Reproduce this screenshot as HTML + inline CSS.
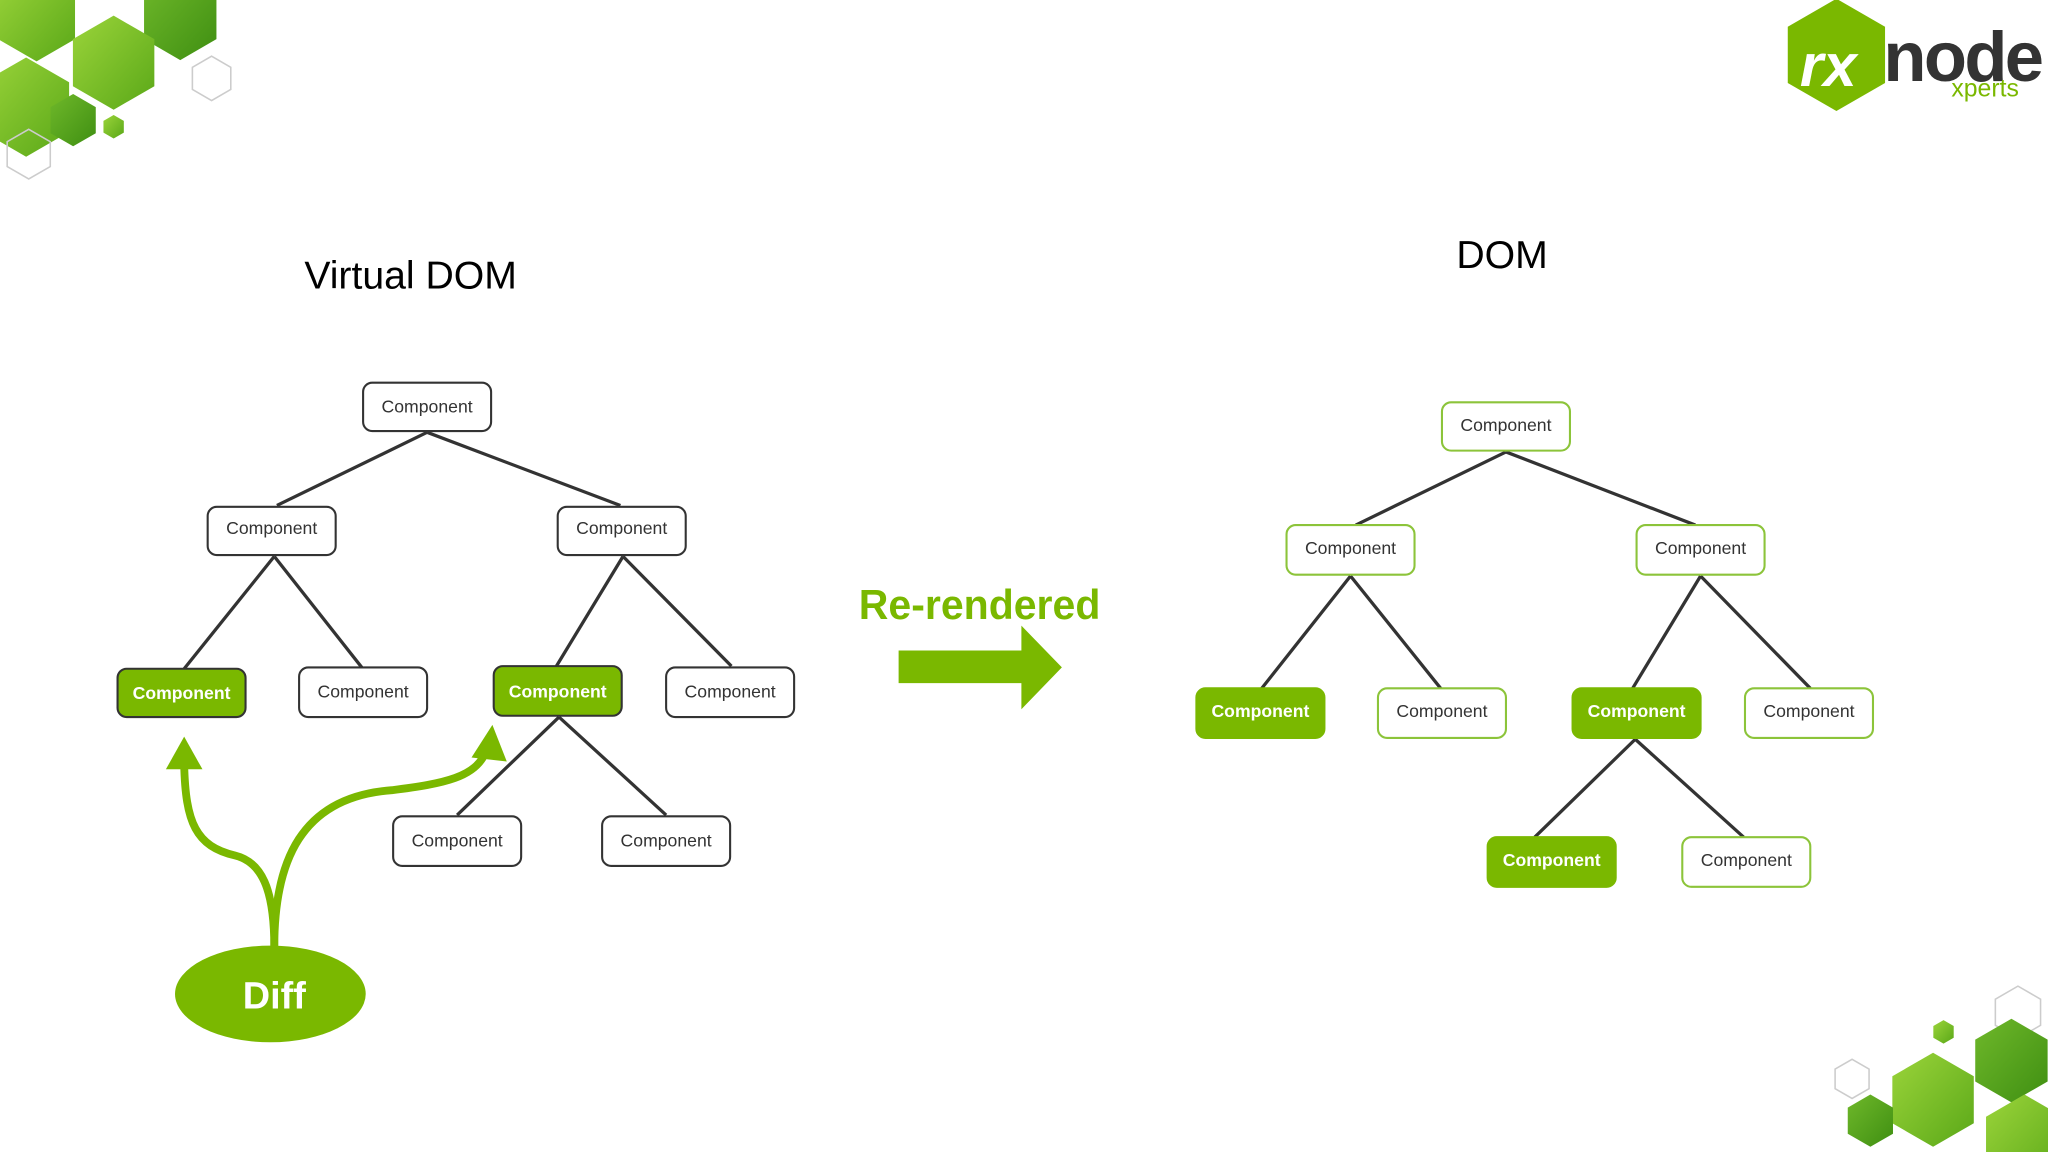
<!DOCTYPE html>
<html><head><meta charset="utf-8"><style>
html,body{margin:0;padding:0;background:#fff;}
svg{display:block;}
text{font-family:"Liberation Sans",sans-serif;}
</style></head><body>
<svg width="2048" height="1152" viewBox="0 0 1568 882" xmlns="http://www.w3.org/2000/svg">
<defs>
<polygon id="hx" points="0,-1 0.866,-0.5 0.866,0.5 0,1 -0.866,0.5 -0.866,-0.5"/>
<linearGradient id="g1" x1="0" y1="0" x2="1" y2="1"><stop offset="0" stop-color="#9bd43a"/><stop offset="1" stop-color="#5aa818"/></linearGradient>
<linearGradient id="g2" x1="0" y1="0" x2="1" y2="1"><stop offset="0" stop-color="#6fb82a"/><stop offset="1" stop-color="#3f8f12"/></linearGradient>
</defs>
<!-- top-left decoration -->
<g>
<use href="#hx" fill="url(#g1)" transform="translate(28,13) scale(34)"/>
<use href="#hx" fill="url(#g2)" transform="translate(138,14) scale(32)"/>
<use href="#hx" fill="url(#g1)" transform="translate(87,48) scale(36)"/>
<use href="#hx" fill="url(#g1)" transform="translate(20,82) scale(38)"/>
<use href="#hx" fill="url(#g2)" transform="translate(56,92) scale(20)"/>
<use href="#hx" fill="url(#g1)" transform="translate(87,97) scale(9)"/>
<polygon points="162,43 176.7,51.5 176.7,68.5 162,77 147.3,68.5 147.3,51.5" fill="none" stroke="#ccc" stroke-width="1.2"/>
<polygon points="22,99 38.5,108.5 38.5,127.5 22,137 5.5,127.5 5.5,108.5" fill="none" stroke="#ccc" stroke-width="1.2"/>
</g>
<!-- bottom-right decoration -->
<g>
<polygon points="1545,755 1562.3,765 1562.3,785 1545,795 1527.7,785 1527.7,765" fill="none" stroke="#ccc" stroke-width="1.2"/>
<polygon points="1418,811 1431,818.5 1431,833.5 1418,841 1405,833.5 1405,818.5" fill="none" stroke="#ccc" stroke-width="1.2"/>
<use href="#hx" fill="url(#g1)" transform="translate(1488,790) scale(9)"/>
<use href="#hx" fill="url(#g2)" transform="translate(1540,812) scale(32)"/>
<use href="#hx" fill="url(#g1)" transform="translate(1480,842) scale(36)"/>
<use href="#hx" fill="url(#g2)" transform="translate(1432,858) scale(20)"/>
<use href="#hx" fill="url(#g1)" transform="translate(1550,872) scale(34)"/>
</g>
<!-- logo -->
<use href="#hx" fill="#7ab800" transform="translate(1406,42) scale(43)"/>
<text x="1378" y="66" font-size="46" font-weight="bold" fill="#fff" font-style="italic">rx</text>
<text x="1442" y="62" font-size="54" font-weight="bold" fill="#333" letter-spacing="-2">node</text>
<text x="1494" y="74" font-size="19" fill="#7ab800">xperts</text>

<!-- titles -->
<text x="233" y="221" font-size="30" fill="#000">Virtual DOM</text>
<text x="1115" y="205" font-size="30" fill="#000">DOM</text>

<!-- VDOM lines -->
<g stroke="#333" stroke-width="2.5" fill="none">
<line x1="327" y1="331" x2="212" y2="387"/><line x1="327" y1="331" x2="475" y2="387"/>
<line x1="210" y1="426" x2="141" y2="512"/><line x1="210" y1="426" x2="277" y2="511"/>
<line x1="477" y1="426" x2="426" y2="510"/><line x1="477" y1="426" x2="560" y2="510"/>
<line x1="428" y1="549" x2="350" y2="624"/><line x1="428" y1="549" x2="510" y2="624"/>
</g>
<!-- DOM lines -->
<g stroke="#333" stroke-width="2.5" fill="none">
<line x1="1153" y1="346" x2="1038" y2="402"/><line x1="1153" y1="346" x2="1298" y2="402"/>
<line x1="1034" y1="441" x2="966" y2="527"/><line x1="1034" y1="441" x2="1103" y2="527"/>
<line x1="1302" y1="441" x2="1250" y2="527"/><line x1="1302" y1="441" x2="1386" y2="527"/>
<line x1="1252" y1="566" x2="1175" y2="641"/><line x1="1252" y1="566" x2="1335" y2="641"/>
</g>

<g font-size="13.5" text-anchor="middle">
<!-- VDOM nodes -->
<g stroke="#333" stroke-width="1.6">
<rect x="278" y="293" width="98" height="37" rx="7" fill="#fff"/>
<rect x="159" y="388" width="98" height="37" rx="7" fill="#fff"/>
<rect x="427" y="388" width="98" height="37" rx="7" fill="#fff"/>
<rect x="90" y="512" width="98" height="37" rx="7" fill="#7ab800"/>
<rect x="229" y="511" width="98" height="38" rx="7" fill="#fff"/>
<rect x="378" y="510" width="98" height="38" rx="7" fill="#7ab800"/>
<rect x="510" y="511" width="98" height="38" rx="7" fill="#fff"/>
<rect x="301" y="625" width="98" height="38" rx="7" fill="#fff"/>
<rect x="461" y="625" width="98" height="38" rx="7" fill="#fff"/>
</g>
<text x="327" y="316" fill="#333">Component</text>
<text x="208" y="409" fill="#333">Component</text>
<text x="476" y="409" fill="#333">Component</text>
<text x="139" y="535" fill="#fff" font-weight="bold">Component</text>
<text x="278" y="534" fill="#333">Component</text>
<text x="427" y="534" fill="#fff" font-weight="bold">Component</text>
<text x="559" y="534" fill="#333">Component</text>
<text x="350" y="648" fill="#333">Component</text>
<text x="510" y="648" fill="#333">Component</text>
<!-- DOM nodes -->
<g stroke="#8cc43a" stroke-width="1.6">
<rect x="1104" y="308" width="98" height="37" rx="7" fill="#fff"/>
<rect x="985" y="402" width="98" height="38" rx="7" fill="#fff"/>
<rect x="1253" y="402" width="98" height="38" rx="7" fill="#fff"/>
<rect x="916" y="527" width="98" height="38" rx="7" fill="#7ab800" stroke="#7ab800"/>
<rect x="1055" y="527" width="98" height="38" rx="7" fill="#fff"/>
<rect x="1204" y="527" width="98" height="38" rx="7" fill="#7ab800" stroke="#7ab800"/>
<rect x="1336" y="527" width="98" height="38" rx="7" fill="#fff"/>
<rect x="1139" y="641" width="98" height="38" rx="7" fill="#7ab800" stroke="#7ab800"/>
<rect x="1288" y="641" width="98" height="38" rx="7" fill="#fff"/>
</g>
<text x="1153" y="330" fill="#333">Component</text>
<text x="1034" y="424" fill="#333">Component</text>
<text x="1302" y="424" fill="#333">Component</text>
<text x="965" y="549" fill="#fff" font-weight="bold">Component</text>
<text x="1104" y="549" fill="#333">Component</text>
<text x="1253" y="549" fill="#fff" font-weight="bold">Component</text>
<text x="1385" y="549" fill="#333">Component</text>
<text x="1188" y="663" fill="#fff" font-weight="bold">Component</text>
<text x="1337" y="663" fill="#333">Component</text>
</g>

<!-- Diff arrows -->
<g fill="none" stroke="#7ab800" stroke-width="6" stroke-linecap="round">
<path d="M210,725 C210,680 200,660 180,655 C150,648 142,630 141,585"/>
<path d="M210,725 C210,660 230,610 300,605 C340,600 365,595 372,575"/>
</g>
<polygon points="127,589 141,564 155,589" fill="#7ab800"/>
<polygon points="361,580 377,555 388,583" fill="#7ab800"/>
<ellipse cx="207" cy="761" rx="73" ry="37" fill="#7ab800"/>
<text x="210" y="772" font-size="29" font-weight="bold" fill="#fff" text-anchor="middle">Diff</text>

<!-- Re-rendered -->
<text x="750" y="474" font-size="32" font-weight="bold" fill="#7ab800" text-anchor="middle" textLength="185" lengthAdjust="spacingAndGlyphs">Re-rendered</text>
<polygon points="688,498 782,498 782,479 813,511 782,543 782,523 688,523" fill="#7ab800"/>
</svg>
</body></html>
